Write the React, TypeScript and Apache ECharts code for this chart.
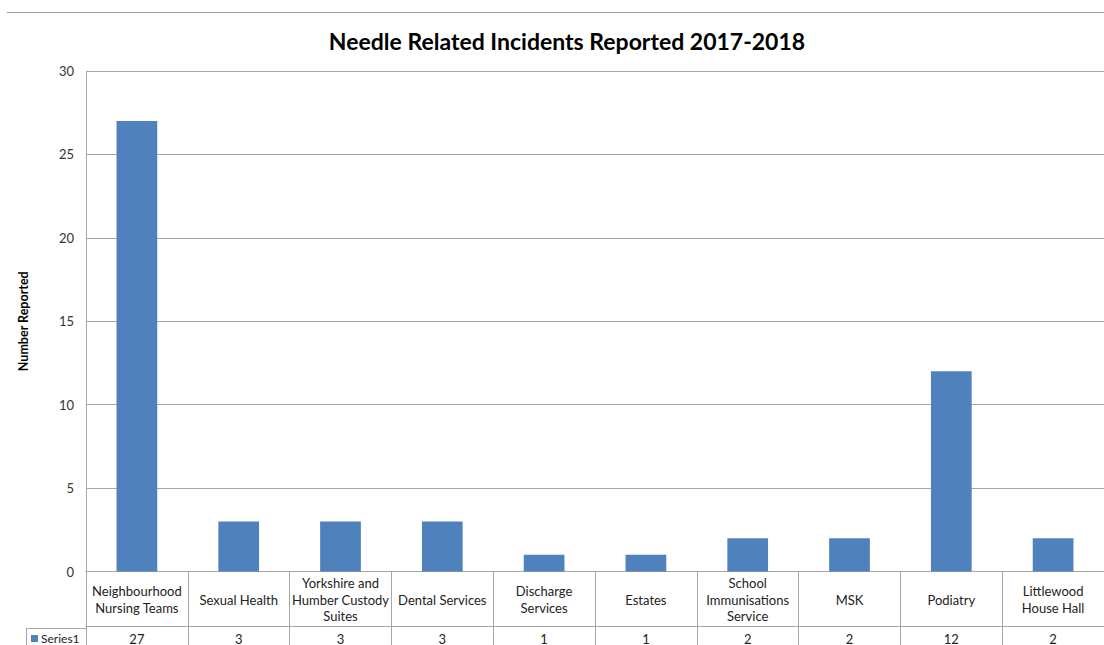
import React, { useEffect, useRef } from "react";
import * as echarts from "echarts";

const categories = [
  "Neighbourhood\nNursing Teams",
  "Sexual Health",
  "Yorkshire and\nHumber Custody\nSuites",
  "Dental Services",
  "Discharge\nServices",
  "Estates",
  "School\nImmunisations\nService",
  "MSK",
  "Podiatry",
  "Littlewood\nHouse Hall",
];
const seriesName = "Series1";
const values = [27, 3, 3, 3, 1, 1, 2, 2, 12, 2];
const yTicks = { min: 0, max: 30, interval: 5 };
const titleText = "Needle Related Incidents Reported 2017-2018";
const yAxisTitle = "Number Reported";

const FONT = "Lato, 'Noto Sans', sans-serif";
const BAR = "#4F81BD";
const LINE = "#a6a6a6";

export default function App() {
  const ref = useRef<HTMLDivElement>(null);
  useEffect(() => {
    if (!ref.current) return;
    const chart = echarts.init(ref.current, null, { renderer: "svg" });
    chart.setOption({
      animation: false,
      backgroundColor: "#ffffff",
      textStyle: { fontFamily: FONT },
      title: {
        text: titleText,
        left: 562,
        textAlign: "center",
        top: 24,
        textStyle: { fontFamily: FONT, fontSize: 23, fontWeight: "bold", color: "#000" },
      },
      grid: { left: 86, top: 71, width: 1023, height: 502, containLabel: false },
      xAxis: [
        {
          type: "category",
          data: categories,
          position: "bottom",
          axisLine: { show: true, lineStyle: { color: LINE, width: 1 } },
          axisTick: { show: true, length: 55, alignWithLabel: false, lineStyle: { color: LINE } },
          axisLabel: {
            interval: 0,
            margin: 28,
            verticalAlign: "middle",
            fontSize: 13,
            lineHeight: 16.5,
            color: "#222",
            fontFamily: FONT,
          },
        },
        {
          type: "category",
          data: values.map((v) => String(v)),
          position: "bottom",
          offset: 55,
          axisLine: { show: true, lineStyle: { color: LINE, width: 1 } },
          axisTick: { show: true, length: 20, lineStyle: { color: LINE } },
          axisLabel: {
            interval: 0,
            margin: 12,
            verticalAlign: "middle",
            fontSize: 13,
            color: "#222",
            fontFamily: FONT,
          },
        },
      ],
      yAxis: {
        type: "value",
        min: yTicks.min,
        max: yTicks.max,
        interval: yTicks.interval,
        name: yAxisTitle,
        nameLocation: "middle",
        nameRotate: 90,
        nameGap: 56,
        nameTextStyle: { fontSize: 12.5, fontWeight: "bold", color: "#000", fontFamily: FONT },
        axisLine: { show: true, lineStyle: { color: LINE } },
        axisTick: { show: false },
        axisLabel: { fontSize: 13, color: "#333", margin: 12, fontFamily: FONT },
        splitLine: { show: true, lineStyle: { color: LINE, width: 1 } },
      },
      series: [
        {
          name: seriesName,
          type: "bar",
          xAxisIndex: 0,
          data: values,
          barWidth: "40%",
          itemStyle: { color: BAR },
        },
      ],
      graphic: [
        { type: "line", shape: { x1: 7, y1: 12.5, x2: 1104, y2: 12.5 }, style: { stroke: "#999", lineWidth: 1 } },
        { type: "line", shape: { x1: 26, y1: 628.5, x2: 86, y2: 628.5 }, style: { stroke: LINE, lineWidth: 1 } },
        { type: "line", shape: { x1: 26.5, y1: 628, x2: 26.5, y2: 645 }, style: { stroke: LINE, lineWidth: 1 } },
        { type: "rect", shape: { x: 31, y: 635, width: 7, height: 7 }, style: { fill: BAR } },
        {
          type: "text",
          x: 41,
          y: 638.5,
          style: { text: seriesName, fontSize: 12, fill: "#222", fontFamily: FONT, textVerticalAlign: "middle" },
        },
      ],
    });
    return () => chart.dispose();
  }, []);
  return (
    <div
      ref={ref}
      style={{ position: "fixed", left: 0, top: 0, width: 1104, height: 645 }}
    />
  );
}
